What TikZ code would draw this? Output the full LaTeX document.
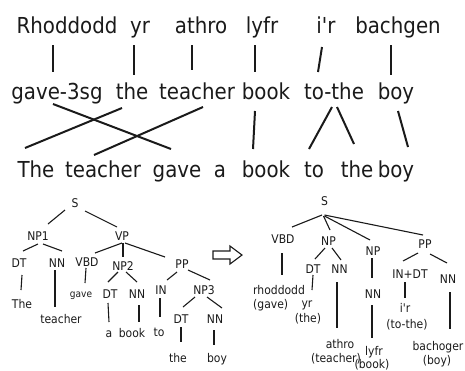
\documentclass[tikz,border=0pt]{standalone}
\usepackage{fontspec}
\setmainfont{DejaVu Sans}[FakeStretch=0.9,Ligatures=TeXOff]
\usetikzlibrary{calc}
\definecolor{ink}{HTML}{1A1A1A}
\begin{document}
\begin{tikzpicture}[x=1pt,y=-1pt,
  big/.style={font=\fontsize{22}{24}\selectfont,inner sep=0pt,anchor=base,text=ink},
  lab/.style={font=\fontsize{12}{14}\selectfont,inner sep=0pt,anchor=base,text=ink},
  tiny/.style={font=\fontsize{10}{12}\selectfont,inner sep=0pt,anchor=base,text=ink},
  link/.style={draw=ink,line width=2pt},
  edge/.style={draw=ink,line width=1.1pt}]
\useasboundingbox (0,0) rectangle (465,370);

% --- Welsh words
\node[big] (r1) at (67,33)  {Rhoddodd};
\node[big] (r2) at (140,33) {yr};
\node[big] (r3) at (201,33) {athro};
\node[big] (r4) at (262,33) {lyfr};
\node[big] (r5) at (326,33) {i'r};
\node[big] (r6) at (398,33) {bachgen};
% --- glosses
\node[big] (m1) at (57,99)  {gave-3sg};
\node[big] (m2) at (132,99) {the};
\node[big] (m3) at (197,99) {teacher};
\node[big] (m4) at (266,99) {book};
\node[big] (m5) at (334,99) {to-the};
\node[big] (m6) at (396,99) {boy};
% --- English sentence
\node[big] (b1) at (36,177)  {The};
\node[big] (b2) at (103,177) {teacher};
\node[big] (b3) at (177,177) {gave};
\node[big] (b4) at (220,177) {a};
\node[big] (b5) at (266,177) {book};
\node[big] (b6) at (314,177) {to};
\node[big] (b7) at (357,177) {the};
\node[big] (b8) at (396,177) {boy};

% word alignment: Welsh -> gloss
\draw[link] ($(r1.base)+(-14,12)$) -- ($(m1.base)+(-4,-27)$);
\draw[link] ($(r2.base)+(-6,12)$)  -- ($(m2.base)+(2,-24)$);
\draw[link] ($(r3.base)+(-9,12)$)  -- ($(m3.base)+(-5,-29)$);
\draw[link] ($(r4.base)+(-7,12)$)  -- ($(m4.base)+(-11,-27)$);
\draw[link] ($(r5.base)+(-4,14)$)  -- ($(m5.base)+(-16,-27)$);
\draw[link] ($(r6.base)+(-7,12)$)  -- ($(m6.base)+(-5,-24)$);
% word alignment: gloss -> English
\draw[link] ($(m1.base)+(-4,5)$)  -- ($(b3.base)+(-6,-28)$);
\draw[link] ($(m2.base)+(-10,9)$) -- ($(b1.base)+(-11,-29)$);
\draw[link] ($(m3.base)+(6,8)$)   -- ($(b2.base)+(-9,-22)$);
\draw[link] ($(m4.base)+(-11,12)$) -- ($(b5.base)+(-13,-28)$);
\draw[link] ($(m5.base)+(-2,8)$)  -- ($(b6.base)+(-5,-28)$);
\draw[link] ($(m5.base)+(3,8)$)   -- ($(b7.base)+(-3,-33)$);
\draw[link] ($(m6.base)+(2,12)$)  -- ($(b8.base)+(12,-30)$);

% --- English parse tree
\node[lab] (s)    at (75,207)  {S};
\node[lab] (np1)  at (38,240)  {NP1};
\node[lab] (vp)   at (122,240) {VP};
\node[lab] (dt1)  at (19,267)  {DT};
\node[lab] (nn1)  at (57,267)  {NN};
\node[lab] (vbd)  at (87,266)  {VBD};
\node[lab] (np2)  at (123,270) {NP2};
\node[lab] (pp)   at (182,268) {PP};
\node[tiny] (gave) at (81,297) {gave};
\node[lab] (the1) at (22,308)  {The};
\node[lab] (tea)  at (61,323)  {teacher};
\node[lab] (dt2)  at (110,298) {DT};
\node[lab] (nn2)  at (137,298) {NN};
\node[lab] (wa)   at (109,337) {a};
\node[lab] (book) at (132,337) {book};
\node[lab] (in)   at (161,294) {IN};
\node[lab] (np3)  at (204,294) {NP3};
\node[lab] (to)   at (159,336) {to};
\node[lab] (dt3)  at (181,323) {DT};
\node[lab] (nn3)  at (215,323) {NN};
\node[lab] (the2) at (178,362) {the};
\node[lab] (boy)  at (217,362) {boy};

\draw[edge] ($(s.base)+(-10,3)$)  -- ($(np1.base)+(10,-16)$);
\draw[edge] ($(s.base)+(10,4)$)   -- ($(vp.base)+(-5,-13)$);
\draw[edge] ($(np1.base)+(0,4)$)  -- ($(dt1.base)+(4,-16)$);
\draw[edge] ($(np1.base)+(5,4)$)  -- ($(nn1.base)+(5,-16)$);
\draw[edge] ($(vp.base)+(0,3)$)   -- ($(vbd.base)+(8,-13)$);
\draw[edge] ($(vp.base)+(1,3)$)   -- ($(np2.base)+(0,-13)$);
\draw[edge] ($(vp.base)+(3,3)$)   -- ($(pp.base)+(-17,-11)$);
\draw[edge] ($(vbd.base)+(-1,2)$) -- ($(gave.base)+(4,-14)$);
\draw[edge] ($(dt1.base)+(3,8)$)  -- ($(the1.base)+(-1,-18)$);
\draw[edge] ($(nn1.base)+(-2,3)$) -- ($(tea.base)+(-6,-16)$);
\draw[edge] ($(np2.base)+(-5,2)$) -- ($(dt2.base)+(-2,-16)$);
\draw[edge] ($(np2.base)+(3,2)$)  -- ($(nn2.base)+(0,-16)$);
\draw[edge] ($(dt2.base)+(-2,5)$) -- ($(wa.base)+(0,-15)$);
\draw[edge] ($(nn2.base)+(2,7)$)  -- ($(book.base)+(7,-15)$);
\draw[edge] ($(pp.base)+(-5,4)$)  -- ($(in.base)+(6,-14)$);
\draw[edge] ($(pp.base)+(6,2)$)   -- ($(np3.base)+(6,-14)$);
\draw[edge] ($(in.base)+(-1,4)$)  -- ($(to.base)+(1,-19)$);
\draw[edge] ($(np3.base)+(-9,3)$) -- ($(dt3.base)+(2,-16)$);
\draw[edge] ($(np3.base)+(3,3)$)  -- ($(nn3.base)+(7,-15)$);
\draw[edge] ($(dt3.base)+(0,4)$)  -- ($(the2.base)+(3,-20)$);
\draw[edge] ($(nn3.base)+(-1,7)$) -- ($(boy.base)+(-3,-17)$);

% --- hollow arrow between the trees
\draw[draw=ink,line width=1.1pt,line join=miter]
  (213,251) -- (230,251) -- (230,246) -- (242,255) -- (230,264)
  -- (230,259) -- (213,259) -- cycle;

% --- Welsh parse tree
\node[lab] (ws)   at (324.5,205) {S};
\node[lab] (wvbd) at (283,243)   {VBD};
\node[lab] (wnp)  at (328.5,245) {NP};
\node[lab] (wnpb) at (373,255)   {NP};
\node[lab] (wpp)  at (425,248)   {PP};
\node[lab] (wdt)  at (313,273)   {DT};
\node[lab] (wnn)  at (339.5,273) {NN};
\node[lab] (wnnb) at (373,298)   {NN};
\node[lab] (win)  at (410,278)   {IN+DT};
\node[lab] (wnnc) at (448,283)   {NN};
\node[lab,anchor=base west] (rh)  at (253,294) {rhoddodd};
\node[lab,anchor=base west] (rhg) at (253,308) {(gave)};
\node[lab] (yr)   at (307,307) {yr};
\node[lab] (yrg)  at (308,322) {(the)};
\node[lab] (ath)  at (340,348) {athro};
\node[lab] (athg) at (336,362) {(teacher)};
\node[lab] (lyf)  at (374,355) {lyfr};
\node[lab] (lyfg) at (372,368) {(book)};
\node[lab] (ir)   at (405,312) {i'r};
\node[lab] (irg)  at (407,328) {(to-the)};
\node[lab] (bac)  at (438,350) {bachoger};
\node[lab] (bacg) at (437,364) {(boy)};

\draw[edge] ($(ws.base)+(-2.5,10)$) -- ($(wvbd.base)+(9,-16)$);
\draw[edge] ($(ws.base)+(-1,11)$)   -- ($(wnp.base)+(1.5,-15)$);
\draw[edge] ($(ws.base)+(0,11)$)    -- ($(wnpb.base)+(-3,-15)$);
\draw[edge] ($(ws.base)+(0,10)$)    -- ($(wpp.base)+(-2,-13)$);
\draw[edge] ($(wvbd.base)+(-1,10)$) -- ($(rh.base west)+(29,-19)$);
\draw[edge] ($(wnp.base)+(-3.5,3)$) -- ($(wdt.base)+(2,-14)$);
\draw[edge] ($(wnp.base)+(3.5,3)$)  -- ($(wnn.base)+(1.5,-13)$);
\draw[edge] ($(wdt.base)+(0,2)$)    -- ($(yr.base)+(5,-17)$);
\draw[edge] ($(wnn.base)+(-2.5,9)$) -- ($(ath.base)+(-3,-20)$);
\draw[edge] ($(wnpb.base)+(-1,3)$)  -- ($(wnnb.base)+(-1,-20)$);
\draw[edge] ($(wnnb.base)+(-1,7)$)  -- ($(lyf.base)+(-2,-17)$);
\draw[edge] ($(wpp.base)+(-7,5)$)   -- ($(win.base)+(-7,-17)$);
\draw[edge] ($(wpp.base)+(5,6)$)    -- ($(wnnc.base)+(-1,-20)$);
\draw[edge] ($(win.base)+(-5,4)$)   -- ($(ir.base)+(0,-14)$);
\draw[edge] ($(wnnc.base)+(2,9)$)   -- ($(bac.base)+(12,-21)$);
\end{tikzpicture}
\end{document}
